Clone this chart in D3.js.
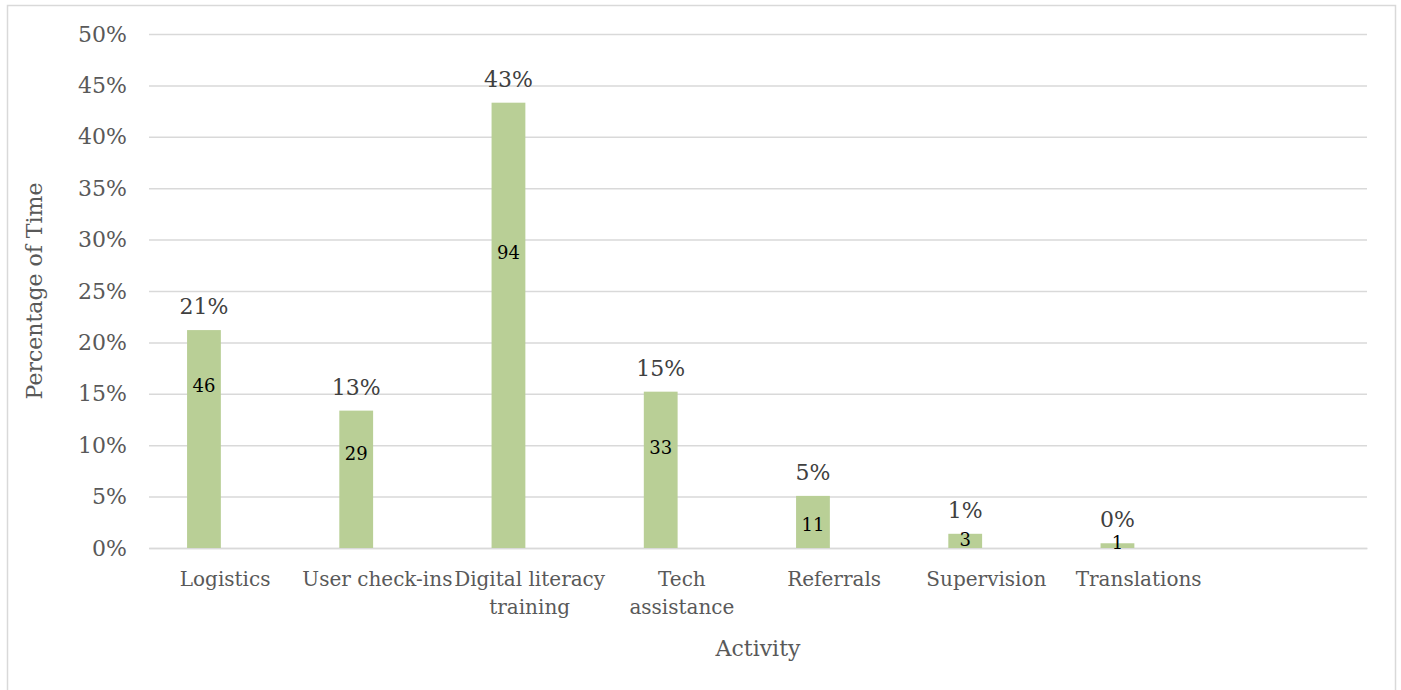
<!DOCTYPE html>
<html>
<head>
<meta charset="utf-8">
<script src="https://cdn.jsdelivr.net/npm/d3@7"></script>
<style>
  html, body { margin: 0; padding: 0; background: #fff; }
  svg text { font-family: "DejaVu Serif", "Liberation Serif", serif; }
</style>
</head>
<body>
<svg id="chart" width="1401" height="690"></svg>
<script>
// Activities and the number of logged entries for each
const categories = ["Logistics", "User check-ins", "Digital literacy training", "Tech assistance", "Referrals", "Supervision", "Translations"];
const counts = [46, 29, 94, 33, 11, 3, 1];
// Level (in percent of time) where each count label sits on its bar
const countLabelAt = [15.8, 9.2, 28.7, 9.8, 2.3, 0.8, 0.5];
const yTicks = [0, 0.05, 0.10, 0.15, 0.20, 0.25, 0.30, 0.35, 0.40, 0.45, 0.50];

const total = d3.sum(counts);
const data = categories.map((c, i) => ({
  name: c,
  count: counts[i],
  share: counts[i] / total,
  labelAt: countLabelAt[i] / 100
}));

const svg = d3.select("#chart");
const W = 1401, H = 690;
const margin = { left: 149, right: W - 1367, top: 34, bottom: H - 548 };
const iw = W - margin.left - margin.right;
const ih = H - margin.top - margin.bottom;

// Chart frame
svg.append("rect")
  .attr("x", 7.5).attr("y", 5.5)
  .attr("width", 1388).attr("height", 720)
  .attr("fill", "#fff").attr("stroke", "#d9d9d9").attr("stroke-width", 1.5);

const g = svg.append("g").attr("transform", `translate(${margin.left},${margin.top})`);

// Eight category slots; the last one is left empty
const slots = categories.concat([""]);
const x = d3.scaleBand().domain(slots).range([0, iw]).padding(0);
const y = d3.scaleLinear().domain([0, 0.5]).range([ih, 0]);

// Gridlines and percentage tick labels
const yAxis = g.append("g")
  .call(d3.axisLeft(y).tickValues(yTicks).tickFormat(d3.format(".0%")).tickSize(-iw).tickPadding(22));
yAxis.select(".domain").remove();
yAxis.selectAll(".tick line").attr("stroke", "#d9d9d9").attr("stroke-width", 1.5);
yAxis.selectAll(".tick text")
  .attr("fill", "#595959").style("font-size", "22px");

// Category axis
const xAxis = g.append("g")
  .attr("transform", `translate(0,${ih})`)
  .call(d3.axisBottom(x).tickSize(0).tickPadding(0));
xAxis.select(".domain").attr("stroke", "#d9d9d9").attr("stroke-width", 1.5);
xAxis.selectAll(".tick text").remove();

// Wrapped category labels
const lineH = 28;
xAxis.selectAll(".tick").each(function (d) {
  if (!d) return;
  const t = d3.select(this).append("text")
    .attr("text-anchor", "middle")
    .attr("fill", "#595959")
    .style("font-size", "20px")
    .attr("y", 38);
  const words = d.split(" ");
  let line = [];
  let tspan = t.append("tspan").attr("x", 0).attr("dy", 0);
  words.forEach(w => {
    line.push(w);
    tspan.text(line.join(" "));
    if (tspan.node().getComputedTextLength() > x.bandwidth() && line.length > 1) {
      line.pop();
      tspan.text(line.join(" "));
      line = [w];
      tspan = t.append("tspan").attr("x", 0).attr("dy", lineH).text(w);
    }
  });
});

// Bars sit in the left half of each slot
const barX = d => x(d.name) + x.bandwidth() * 0.25;
const barW = x.bandwidth() * 0.222;

g.selectAll("rect.bar")
  .data(data)
  .join("rect")
  .attr("class", "bar")
  .attr("x", barX)
  .attr("width", barW)
  .attr("y", d => y(d.share))
  .attr("height", d => ih - y(d.share))
  .attr("fill", "#b9cf96");

// Percentage labels above the bars
g.selectAll("text.pct")
  .data(data)
  .join("text")
  .attr("class", "pct")
  .attr("x", d => barX(d) + barW / 2)
  .attr("y", d => y(d.share) - 16)
  .attr("text-anchor", "middle")
  .attr("fill", "#404040")
  .style("font-size", "22px")
  .text(d => d3.format(".0%")(d.share));

// Count labels on the bars
g.selectAll("text.cnt")
  .data(data)
  .join("text")
  .attr("class", "cnt")
  .attr("x", d => barX(d) + barW / 2)
  .attr("y", d => y(d.labelAt))
  .attr("dy", "0.35em")
  .attr("text-anchor", "middle")
  .attr("fill", "#000")
  .style("font-size", "18px")
  .text(d => d.count);

// Axis titles
svg.append("text")
  .attr("transform", `translate(42,${margin.top + ih / 2}) rotate(-90)`)
  .attr("text-anchor", "middle")
  .attr("fill", "#595959")
  .style("font-size", "22px")
  .text("Percentage of Time");

svg.append("text")
  .attr("x", margin.left + iw / 2)
  .attr("y", 656)
  .attr("text-anchor", "middle")
  .attr("fill", "#595959")
  .style("font-size", "22px")
  .text("Activity");
</script>
</body>
</html>
